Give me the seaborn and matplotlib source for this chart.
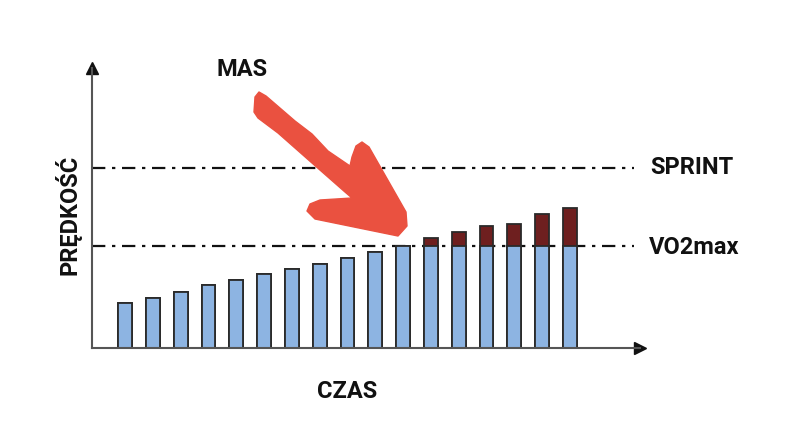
import matplotlib
matplotlib.use("Agg")
import matplotlib.pyplot as plt
import seaborn as sns
import numpy as np
import pandas as pd
from matplotlib.patches import Polygon

sns.set_style("white")
plt.rcParams['font.family'] = ['Roboto', 'DejaVu Sans']

# ---- data ----
steps = list(range(1, 18))
speed = [44, 49, 55, 62, 67, 73, 77, 82, 88, 94, 100, 108, 114, 120, 122, 131, 137]
vo2max = 100
sprint = 176
labels_lines = ["SPRINT", "VO2max"]
x_label = "CZAS"
y_label = "PRĘDKOŚĆ"
arrow_label = "MAS"

W, H = 786, 442
fig = plt.figure(figsize=(W / 100, H / 100), dpi=100)

def fx(px):
    return px / W

def fy(py):
    return 1 - py / H

ax = fig.add_axes([fx(92), fy(348), fx(640) - fx(92), fy(68) - fy(348)])

df = pd.DataFrame({"step": steps, "total": speed,
                   "aerobic": [min(v, vo2max) for v in speed]})
df["step"] = df["step"].astype(str)

sns.barplot(data=df, x="step", y="total", color="#6E1F1F", saturation=1,
            width=0.5, edgecolor="#2a2a2a", linewidth=1.3, ax=ax)
sns.barplot(data=df, x="step", y="aerobic", color="#8DB4E2", saturation=1,
            width=0.5, edgecolor="#2a2a2a", linewidth=1.3, ax=ax)

ax.set_xlim(-1.19, 18.52)
ax.set_ylim(0, 274.5)

for val in (sprint, vo2max):
    ax.hlines(val, -1.19, 18.3, colors="#111111", linestyles=(0, (6, 3, 1.5, 3)),
              linewidth=1.6, zorder=0)

ax.set_xticks([])
ax.set_yticks([])
ax.set_xlabel("")
ax.set_ylabel("")
for s in ("top", "right"):
    ax.spines[s].set_visible(False)
for s in ("left", "bottom"):
    ax.spines[s].set_color("#555555")
    ax.spines[s].set_linewidth(1.5)
ax.plot(1, 0, ">", color="#111111", markersize=8, transform=ax.transAxes, clip_on=False)
ax.plot(0, 1, "^", color="#111111", markersize=8, transform=ax.transAxes, clip_on=False)

fs = 17
fig.text(fx(650), fy(168), labels_lines[0], fontsize=fs, fontweight="bold",
         ha="left", va="center", color="#111111")
fig.text(fx(649), fy(247), labels_lines[1], fontsize=fs, fontweight="bold",
         ha="left", va="center", color="#111111")
fig.text(fx(347), fy(391), x_label, fontsize=fs, fontweight="bold",
         ha="center", va="center", color="#111111")
fig.text(fx(68), fy(215), y_label, fontsize=fs, fontweight="bold", rotation=90,
         ha="center", va="center", color="#111111")
fig.text(fx(242), fy(70), arrow_label, fontsize=fs, fontweight="bold",
         ha="center", va="center", color="#111111")

pts = [(254, 112), (255, 97), (259, 92), (266, 96), (295, 121), (312, 134),
       (328, 151), (350, 166), (352, 157), (356, 146), (362, 142), (369, 147),
       (406, 212), (407, 226), (398, 236), (315, 219), (307, 211), (310, 204),
       (320, 200), (352, 198), (345, 192), (312, 163), (278, 133), (258, 118)]
poly = Polygon([(fx(x), fy(y)) for x, y in pts], closed=True,
               transform=fig.transFigure, facecolor="#EA5140", edgecolor="#EA5140",
               linewidth=1, joinstyle="round", zorder=10)
fig.patches.append(poly)

fig.savefig("out.png", dpi=100)
